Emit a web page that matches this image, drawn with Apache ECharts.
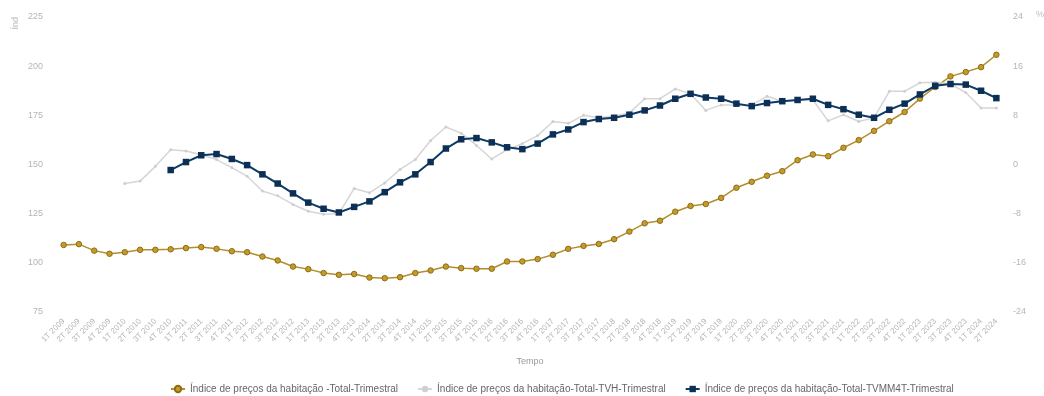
<!DOCTYPE html>
<html>
<head>
<meta charset="utf-8">
<script src="https://cdn.jsdelivr.net/npm/echarts@6/dist/echarts.min.js"></script>
<style>
html,body{margin:0;padding:0;background:#fff;}
#chart{width:1044px;height:396px;}
</style>
</head>
<body>
<div id="chart"></div>
<script>
var categories = [
"1T 2009","2T 2009","3T 2009","4T 2009",
"1T 2010","2T 2010","3T 2010","4T 2010",
"1T 2011","2T 2011","3T 2011","4T 2011",
"1T 2012","2T 2012","3T 2012","4T 2012",
"1T 2013","2T 2013","3T 2013","4T 2013",
"1T 2014","2T 2014","3T 2014","4T 2014",
"1T 2015","2T 2015","3T 2015","4T 2015",
"1T 2016","2T 2016","3T 2016","4T 2016",
"1T 2017","2T 2017","3T 2017","4T 2017",
"1T 2018","2T 2018","3T 2018","4T 2018",
"1T 2019","2T 2019","3T 2019","4T 2019",
"1T 2020","2T 2020","3T 2020","4T 2020",
"1T 2021","2T 2021","3T 2021","4T 2021",
"1T 2022","2T 2022","3T 2022","4T 2022",
"1T 2023","2T 2023","3T 2023","4T 2023",
"1T 2024","2T 2024"
];

var seriesNames = [
"Índice de preços da habitação -Total-Trimestral",
"Índice de preços da habitação-Total-TVH-Trimestral",
"Índice de preços da habitação-Total-TVMM4T-Trimestral"
];

var indexValues = [109.1,109.5,106.2,104.6,105.4,106.6,106.6,106.9,107.5,108.0,
107.1,105.9,105.4,103.2,101.2,98.1,96.8,94.8,93.9,94.3,
92.5,92.2,92.7,94.8,96.1,98.1,97.3,97.0,97.0,100.7,
100.7,101.9,104.1,107.1,108.6,109.6,112.0,115.9,120.1,121.4,
126.0,128.9,129.9,133.0,138.2,141.2,144.3,146.6,152.2,155.1,
154.2,158.5,162.4,167.1,172.0,176.7,183.5,189.4,194.8,197.0,
199.5,205.8];

var tvhValues = [null,null,null,null,
-3.1,-2.7,-0.3,2.4,2.2,1.6,0.8,-0.5,-1.9,-4.3,
-5.1,-6.5,-7.6,-8.1,-8.0,-3.9,-4.6,-3.0,-0.8,0.8,
3.9,6.1,5.1,3.1,0.9,2.4,3.4,4.7,7.0,6.7,
8.0,7.6,7.9,8.4,10.7,10.7,12.3,11.5,8.8,9.7,
9.7,9.7,11.1,10.3,10.5,10.5,7.1,8.1,7.0,7.6,
11.9,11.9,13.3,13.4,13.1,11.7,9.2,9.2];

var tvmm4tValues = [null,null,null,null,null,null,null,
-0.9,0.4,1.5,1.7,0.9,-0.1,-1.6,-3.1,-4.7,-6.2,
-7.2,-7.8,-6.9,-6.0,-4.5,-2.9,-1.6,0.4,2.6,4.1,
4.3,3.6,2.8,2.5,3.4,4.9,5.7,6.9,7.4,7.6,
8.1,8.8,9.6,10.7,11.5,10.9,10.7,9.9,9.5,10.0,
10.3,10.5,10.7,9.7,9.0,8.1,7.6,8.9,9.9,11.4,
12.8,13.1,13.0,12.0,10.8];

var leftTicks = {min:75, max:225, interval:25};
var rightTicks = {min:-24, max:24, interval:8};

var chart = echarts.init(document.getElementById('chart'), null, {renderer:'canvas'});
var labelColor = '#b5b5b5';
var option = {
  animation:false,
  backgroundColor:'#ffffff',
  textStyle:{fontFamily:'Liberation Sans, Arial, sans-serif'},
  grid:{left:56, right:40, top:17, bottom:84, containLabel:false},
  legend:{
    left:165, top:379, itemGap:19, itemWidth:14, itemHeight:8,
    textStyle:{fontSize:10, color:'#666666', fontFamily:'Liberation Sans, Arial, sans-serif'},
    data:seriesNames
  },
  graphic:[
    {type:'text', left:11, top:17, rotation:Math.PI/2,
     style:{text:'Índ', fill:'#bbbbbb', fontSize:9, fontFamily:'Liberation Sans, Arial, sans-serif'}},
    {type:'text', left:1036, top:10,
     style:{text:'%', fill:'#bbbbbb', fontSize:9, fontFamily:'Liberation Sans, Arial, sans-serif'}}
  ],
  xAxis:{
    type:'category', data:categories, boundaryGap:true,
    name:'Tempo', nameLocation:'middle', nameGap:45,
    nameTextStyle:{fontSize:9, color:'#999999'},
    axisLine:{show:false}, axisTick:{show:false},
    axisLabel:{interval:0, rotate:45, fontSize:8, color:labelColor, margin:8}
  },
  yAxis:[
    {type:'value', min:leftTicks.min, max:leftTicks.max, interval:leftTicks.interval,
     axisLine:{show:false}, axisTick:{show:false}, splitLine:{show:false},
     axisLabel:{fontSize:9, color:labelColor, margin:13}},
    {type:'value', min:rightTicks.min, max:rightTicks.max, interval:rightTicks.interval,
     axisLine:{show:false}, axisTick:{show:false}, splitLine:{show:false},
     axisLabel:{fontSize:9, color:labelColor, margin:9}}
  ],
  series:[
    {name:seriesNames[0], type:'line', yAxisIndex:0, data:indexValues,
     symbol:'circle', symbolSize:5.5,
     lineStyle:{color:'#b38e2c', width:1.5},
     itemStyle:{color:'#c49a2a', borderColor:'#8d6d14', borderWidth:1}},
    {name:seriesNames[1], type:'line', yAxisIndex:1, data:tvhValues,
     symbol:'circle', symbolSize:3,
     lineStyle:{color:'#d6d6d6', width:1.5},
     itemStyle:{color:'#cfcfcf'}},
    {name:seriesNames[2], type:'line', yAxisIndex:1, data:tvmm4tValues,
     symbol:'rect', symbolSize:6.5,
     lineStyle:{color:'#0e3a66', width:2},
     itemStyle:{color:'#0b2f55'}}
  ]
};
chart.setOption(option);
</script>
</body>
</html>
